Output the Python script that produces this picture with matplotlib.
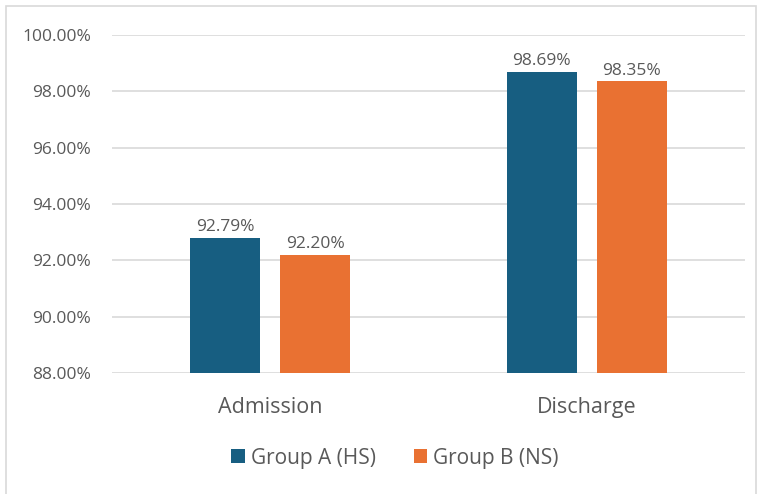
import matplotlib
matplotlib.use("Agg")

import matplotlib.pyplot as plt
import numpy as np
from matplotlib.patches import Rectangle
from matplotlib.ticker import FuncFormatter

plt.rcParams["font.family"] = ["Open Sans", "DejaVu Sans"]

categories = ["Admission", "Discharge"]
series_names = ["Group A (HS)", "Group B (NS)"]
group_a = [92.79, 98.69]
group_b = [92.20, 98.35]
colors = ["#175E81", "#E97132"]
TEXT = "#595959"

fig = plt.figure(figsize=(7.63, 4.94), dpi=100)
ax = fig.add_axes([112 / 763, 1 - 373 / 494, (745 - 112) / 763, (373 - 35) / 494])

# light border round the whole chart
fig.patches.append(Rectangle((6 / 763, -0.01), 750 / 763, 1 - 6 / 494 + 0.01,
                             transform=fig.transFigure, fill=False,
                             edgecolor="#D9D9D9", linewidth=1.2))

x = np.arange(len(categories))
width = 0.22
offset = 0.142
for vals, name, col, sign in zip([group_a, group_b], series_names, colors, [-1, 1]):
    bars = ax.bar(x + sign * offset, vals, width=width, color=col, label=name, zorder=3)
    for b, v in zip(bars, vals):
        ax.text(b.get_x() + b.get_width() / 2, v + 0.1, f"{v:.2f}%",
                ha="center", va="bottom", fontsize=12.5, color=TEXT)

ax.set_xlim(-0.5, 1.5)
ax.set_ylim(88, 100)
ax.set_yticks(np.arange(88, 100.1, 2))
ax.yaxis.set_major_formatter(FuncFormatter(lambda v, p: f"{v:.2f}%"))
ax.set_xticks(x)
ax.set_xticklabels(categories, fontsize=15.5, color=TEXT)
ax.tick_params(axis="y", labelsize=12.5, labelcolor=TEXT, length=0, pad=15)
ax.tick_params(axis="x", length=0, pad=17)
ax.grid(axis="y", color="#D9D9D9", linewidth=1.2, zorder=0)
for s in ax.spines.values():
    s.set_visible(False)

leg = fig.legend(loc="center", bbox_to_anchor=(395 / 763, 1 - 458 / 494), ncol=2,
                 frameon=False, fontsize=15, handlelength=0.65, handleheight=0.65,
                 handletextpad=0.3, columnspacing=1.8)
for t in leg.get_texts():
    t.set_color(TEXT)

fig.savefig("out.png", dpi=100)
